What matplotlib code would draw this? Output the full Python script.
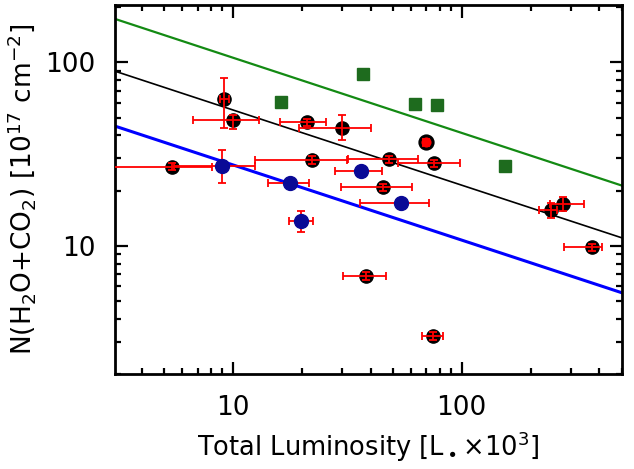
import numpy as np
import matplotlib.pyplot as plt

plt.rcParams['mathtext.default'] = 'regular'
plt.rcParams['font.family'] = ['DejaVu Sans']

# red sources: luminosity, lower/upper x bounds, column density, lower/upper y bounds
red_L = [5.4, 9.17, 10.0, 21.0, 30.0, 22.1, 48.2, 75.7, 69.8, 45.4, 38.2, 74.6, 245.6, 278.0, 370.0]
red_L_lo = [2.0, 8.8, 6.7, 16.1, 19.4, 12.5, 31.9, 52.6, 68.0, 29.7, 30.2, 67.3, 217.6, 243.0, 280.0]
red_L_hi = [8.07, 9.6, 13.0, 25.5, 40.0, 31.4, 64.6, 98.4, 71.6, 60.8, 46.6, 82.6, 262.0, 343.0, 409.0]
red_N = [27.0, 62.8, 48.4, 47.1, 44.0, 29.3, 29.6, 28.1, 36.6, 20.8, 6.84, 3.23, 15.7, 16.9, 9.8]
red_N_lo = [25.8, 43.6, 43.2, 45.0, 37.7, 27.9, 28.2, 26.8, 35.0, 19.8, 6.5, 3.08, 14.2, 15.5, 9.35]
red_N_hi = [28.2, 81.8, 51.6, 49.3, 51.6, 30.7, 31.0, 29.4, 38.2, 21.8, 7.2, 3.38, 17.1, 18.5, 10.25]

# blue sources
blue_L = [8.98, 17.8, 19.8, 36.3, 54.3]
blue_L_lo = [5.5, 14.3, 17.6, 27.9, 36.0]
blue_L_hi = [12.5, 21.6, 22.3, 44.7, 72.1]
blue_N = [27.3, 21.9, 13.7, 25.5, 17.0]
blue_N_lo = [22.0, 21.9, 11.9, 25.5, 17.0]
blue_N_hi = [33.3, 21.9, 15.4, 25.5, 17.0]

# green squares
green_L = [16.2, 36.9, 62.5, 78.2, 155.0]
green_N = [60.8, 86.4, 59.0, 58.3, 27.2]

# power-law lines N = norm * (L/10)^slope
fit_slope = -0.41
fit_norm = [106.0, 55.0, 27.6]
fit_color = ['#138a13', 'black', '#0000ff']
fit_width = [1.6, 1.2, 2.2]

xlim = (3.05, 502)
ylim = (2.0, 205)

fig = plt.figure(figsize=(6.34, 4.69), dpi=100)
ax = fig.add_axes([0.1814, 0.2026, 0.7996, 0.7864])
ax.set_xscale('log')
ax.set_yscale('log')

xx = np.logspace(np.log10(xlim[0]), np.log10(xlim[1]), 50)
for norm, c, w in zip(fit_norm, fit_color, fit_width):
    ax.plot(xx, norm * (xx / 10.0) ** fit_slope, color=c, lw=w, zorder=2)

# red points: black discs under red error bars
rL = np.array(red_L)
rN = np.array(red_N)
xerr = [rL - np.array(red_L_lo), np.array(red_L_hi) - rL]
yerr = [rN - np.array(red_N_lo), np.array(red_N_hi) - rN]
ax.plot(rL, rN, 'o', ms=9.5, mfc='black', mec='black', zorder=3)
ax.plot(rL[8], rN[8], 'o', ms=9.5, mfc='red', mec='black', mew=2.2, zorder=3)
ax.errorbar(rL, rN, xerr=xerr, yerr=yerr, fmt='none', ecolor='red',
            elinewidth=1.3, capsize=3, capthick=1.3, zorder=4)

# blue points
bL = np.array(blue_L)
bN = np.array(blue_N)
bxerr = [bL - np.array(blue_L_lo), np.array(blue_L_hi) - bL]
byerr = [bN - np.array(blue_N_lo), np.array(blue_N_hi) - bN]
ax.errorbar(bL, bN, xerr=bxerr, yerr=byerr, fmt='none', ecolor='red',
            elinewidth=1.3, capsize=3, capthick=1.3, zorder=4)
ax.plot(bL, bN, 'o', ms=10, mfc='#0a0a96', mec='#0a0a96', zorder=5)

# green squares
ax.plot(green_L, green_N, 's', ms=8, mfc='#1e6b1e', mec='#1e6b1e', zorder=5)

ax.set_xlim(xlim)
ax.set_ylim(ylim)
for s in ax.spines.values():
    s.set_linewidth(2)
ax.tick_params(which='both', direction='in', top=True, right=True, width=1.6)
ax.tick_params(which='major', length=9, labelsize=19, pad=14)
ax.tick_params(axis='x', which='major', pad=15)
ax.tick_params(which='minor', length=4.5)
ax.set_xticks([10, 100])
ax.set_xticklabels(['10', '100'])
ax.set_yticks([10, 100])
ax.set_yticklabels(['10', '100'])

ax.set_xlabel(r'Total Luminosity [L$_\bullet$$\times$10$^3$]', fontsize=18.5, labelpad=6)
ax.set_ylabel(r'N(H$_2$O+CO$_2$) [10$^{17}$ cm$^{-2}$]', fontsize=19, labelpad=5)

fig.savefig('out.png', dpi=100, facecolor='white')
